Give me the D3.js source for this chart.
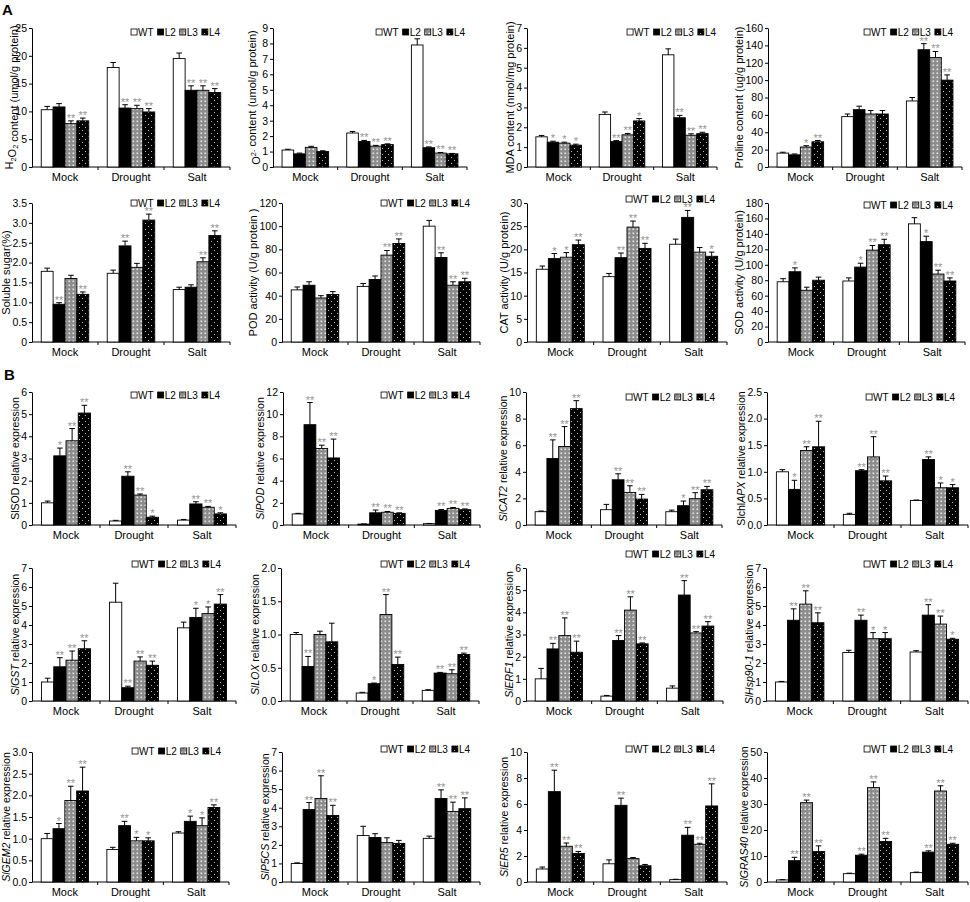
<!DOCTYPE html>
<html>
<head>
<meta charset="utf-8">
<script src="https://cdn.jsdelivr.net/npm/d3@7"></script>
<style>
  body { margin: 0; background: #fff; }
  svg { display: block; font-family: "Liberation Sans", Arial, sans-serif; }
</style>
</head>
<body>
<svg id="fig" width="970" height="902"></svg>
<script>
const groups = ["Mock", "Drought", "Salt"]
const series = ["WT", "L2", "L3", "L4"]

// ---- panel A: physiology ----
const h2o2Mean = [[10.3, 10.8, 7.8, 8.3], [17.9, 10.6, 10.5, 9.9], [19.5, 13.8, 13.8, 13.4]]
const h2o2Err  = [[0.6, 0.6, 0.5, 0.5], [0.9, 0.6, 0.6, 0.6], [1.0, 0.8, 0.8, 0.7]]
const h2o2Sig  = [["", "", "**", "**"], ["", "**", "**", "**"], ["", "**", "**", "**"]]

const o2Mean = [[1.1, 0.85, 1.27, 1.0], [2.2, 1.65, 1.35, 1.45], [7.9, 1.25, 0.9, 0.85]]
const o2Err  = [[0.05, 0.05, 0.07, 0.05], [0.1, 0.07, 0.05, 0.05], [0.4, 0.05, 0.04, 0.03]]
const o2Sig  = [["", "", "", ""], ["", "**", "**", "**"], ["", "**", "**", "**"]]

const mdaMean = [[1.52, 1.25, 1.2, 1.1], [2.65, 1.28, 1.62, 2.32], [5.65, 2.48, 1.6, 1.68]]
const mdaErr  = [[0.07, 0.05, 0.05, 0.05], [0.12, 0.05, 0.07, 0.12], [0.3, 0.12, 0.07, 0.07]]
const mdaSig  = [["", "*", "*", "*"], ["", "**", "**", "*"], ["", "**", "**", "**"]]

const prolineMean = [[16, 14, 23, 29], [58, 66, 61, 61], [76, 135, 126, 100]]
const prolineErr  = [[1, 1, 1.5, 1.5], [3, 4, 4, 4], [4, 7, 7, 6]]
const prolineSig  = [["", "", "*", "**"], ["", "", "", ""], ["", "**", "**", "**"]]

const sugarMean = [[1.78, 0.95, 1.6, 1.2], [1.73, 2.42, 1.88, 3.07], [1.32, 1.38, 2.02, 2.68]]
const sugarErr  = [[0.08, 0.04, 0.08, 0.06], [0.08, 0.12, 0.1, 0.15], [0.06, 0.06, 0.1, 0.12]]
const sugarSig  = [["", "**", "", "**"], ["", "**", "", "**"], ["", "", "**", "**"]]

const podMean = [[45, 49, 38, 41], [48, 54, 75, 85], [100, 73, 49, 52]]
const podErr  = [[2.5, 3, 2, 2.5], [2.5, 3, 4, 4], [5, 4, 3, 3]]
const podSig  = [["", "", "", ""], ["", "", "**", "**"], ["", "**", "**", "**"]]

const catMean = [[15.7, 18, 18.3, 21], [14.1, 18.2, 24.8, 20.2], [21.1, 26.9, 19.4, 18.5]]
const catErr  = [[0.7, 1.1, 1, 1], [0.7, 1, 1.3, 1.1], [1.1, 1.5, 1, 0.9]]
const catSig  = [["", "*", "*", "**"], ["", "**", "**", "**"], ["", "**", "", "*"]]

const sodMean = [[78, 91, 67, 80], [79, 97, 119, 126], [153, 130, 88, 79]]
const sodErr  = [[4, 5, 4, 4], [4, 5, 6, 7], [8, 7, 5, 4]]
const sodSig  = [["", "*", "", ""], ["", "*", "**", "**"], ["", "*", "**", "**"]]

// ---- panel B: gene expression ----
const slSodMean = [[1.0, 3.12, 3.8, 5.05], [0.18, 2.2, 1.35, 0.35], [0.22, 0.95, 0.8, 0.5]]
const slSodErr  = [[0.08, 0.35, 0.55, 0.35], [0.03, 0.2, 0.05, 0.05], [0.03, 0.1, 0.04, 0.05]]
const slSodSig  = [["", "*", "**", "**"], ["", "**", "**", "*"], ["", "**", "**", "*"]]

const slPodMean = [[1.0, 9.05, 6.9, 6.05], [0.08, 1.1, 1.15, 1.05], [0.12, 1.32, 1.5, 1.38]]
const slPodErr  = [[0.05, 2.0, 0.3, 1.7], [0.02, 0.25, 0.07, 0.05], [0.02, 0.08, 0.08, 0.07]]
const slPodSig  = [["", "**", "**", "**"], ["", "**", "**", "**"], ["", "**", "**", "**"]]

const slCat2Mean = [[1.0, 5.0, 5.9, 8.75], [1.15, 3.4, 2.45, 1.95], [1.0, 1.45, 1.98, 2.65]]
const slCat2Err  = [[0.05, 1.4, 1.5, 0.6], [0.4, 0.45, 0.5, 0.35], [0.12, 0.35, 0.45, 0.25]]
const slCat2Sig  = [["", "**", "**", "**"], ["", "**", "**", "**"], ["", "*", "**", "**"]]

const slApxMean = [[1.0, 0.67, 1.4, 1.47], [0.2, 1.02, 1.28, 0.83], [0.46, 1.23, 0.7, 0.7]]
const slApxErr  = [[0.04, 0.17, 0.07, 0.48], [0.02, 0.02, 0.38, 0.09], [0.01, 0.05, 0.09, 0.06]]
const slApxSig  = [["", "*", "**", "**"], ["", "**", "**", "**"], ["", "**", "*", "*"]]

const slGstMean = [[1.0, 1.8, 2.15, 2.75], [5.2, 0.7, 2.1, 1.88], [3.85, 4.4, 4.6, 5.1]]
const slGstErr  = [[0.2, 0.48, 0.48, 0.42], [1.0, 0.08, 0.22, 0.22], [0.3, 0.48, 0.35, 0.5]]
const slGstSig  = [["", "**", "**", "**"], ["", "**", "**", "**"], ["", "*", "*", "**"]]

const slLoxMean = [[1.0, 0.52, 1.0, 0.89], [0.12, 0.26, 1.3, 0.55], [0.16, 0.42, 0.41, 0.7]]
const slLoxErr  = [[0.03, 0.15, 0.05, 0.28], [0.01, 0.01, 0.3, 0.11], [0.01, 0.01, 0.06, 0.02]]
const slLoxSig  = [["", "**", "", ""], ["", "*", "**", "**"], ["", "**", "**", "**"]]

const slErf1Mean = [[1.0, 2.35, 2.95, 2.2], [0.22, 2.73, 4.1, 2.58], [0.58, 4.78, 3.07, 3.38]]
const slErf1Err  = [[0.47, 0.25, 0.8, 0.5], [0.03, 0.22, 0.6, 0.04], [0.1, 0.65, 0.06, 0.2]]
const slErf1Sig  = [["", "**", "**", "**"], ["", "**", "**", "**"], ["", "**", "**", "**"]]

const slHspMean = [[1.0, 4.25, 5.1, 4.12], [2.55, 4.25, 3.28, 3.28], [2.58, 4.52, 4.05, 3.25]]
const slHspErr  = [[0.03, 0.6, 0.7, 0.52], [0.12, 0.27, 0.32, 0.32], [0.07, 0.55, 0.42, 0.05]]
const slHspSig  = [["", "**", "**", "**"], ["", "**", "*", "*"], ["", "**", "**", "*"]]

const slGem2Mean = [[1.0, 1.23, 1.88, 2.1], [0.75, 1.3, 0.95, 0.95], [1.13, 1.4, 1.3, 1.72]]
const slGem2Err  = [[0.12, 0.12, 0.33, 0.55], [0.05, 0.1, 0.08, 0.07], [0.03, 0.12, 0.18, 0.06]]
const slGem2Sig  = [["", "*", "**", "**"], ["", "**", "*", "*"], ["", "*", "*", "**"]]

const slP5csMean = [[1.0, 3.9, 4.5, 3.58], [2.5, 2.4, 2.12, 2.08], [2.35, 4.5, 3.8, 3.95]]
const slP5csErr  = [[0.03, 0.38, 1.22, 0.55], [0.5, 0.2, 0.26, 0.16], [0.12, 0.46, 0.5, 0.58]]
const slP5csSig  = [["", "**", "**", "**"], ["", "", "", ""], ["", "**", "**", "**"]]

const slEr5Mean = [[1.0, 6.95, 2.75, 2.2], [1.4, 5.9, 1.8, 1.25], [0.18, 3.6, 2.9, 5.85]]
const slEr5Err  = [[0.15, 1.65, 0.25, 0.15], [0.3, 0.55, 0.08, 0.1], [0.03, 0.6, 0.08, 1.7]]
const slEr5Sig  = [["", "**", "**", "**"], ["", "**", "", ""], ["", "**", "**", "**"]]

const slGrasMean = [[0.8, 8.2, 30.5, 11.7], [3.2, 10.3, 36.3, 15.6], [3.6, 11.5, 35, 14.5]]
const slGrasErr  = [[0.1, 1.3, 1, 2.2], [0.2, 0.4, 2.2, 1.2], [0.2, 0.5, 2, 0.4]]
const slGrasSig  = [["", "**", "**", "**"], ["", "**", "**", "**"], ["", "**", "**", "**"]]

// y axis: max, step, tick label style
const yMax  = [25, 9, 7, 160, 3.5, 120, 30, 180, 6, 12, 10, 2.5, 7, 2.0, 6, 7, 3.0, 7, 10, 50]
const yStep = [5, 1, 1, 20, 0.5, 20, 5, 20, 1, 2, 2, 0.5, 1, 0.5, 1, 1, 0.5, 1, 2, 10]
const yFmt  = ["d", "d", "d", "d", "1z", "d", "d", "d", "d", "d", "d", "1", "d", "1", "d", "d", "1", "d", "d", "d"]

// y axis titles as [text, style] pieces
const yTitles = [
  [["H"], ["2", "sub"], ["O"], ["2", "sub"], [" content (umol/g protein)"]],
  [["O"], ["2-", "sup"], [" content (umol/g protein)"]],
  [["MDA content (nmol/mg protein)"]],
  [["Proline content (ug/g protein)"]],
  [["Soluble sugar(%)"]],
  [["POD activity (U/g protein )"]],
  [["CAT activity (U/g protein)"]],
  [["SOD activity (U/g protein)"]],
  [["SlSOD"], ["  relative expression"]],
  [["SlPOD", "i"], [" relative expression"]],
  [["SlCAT2", "i"], [" relative expression"]],
  [["Slchl"], ["APX", "i"], ["  relative expression"]],
  [["SlGST", "i"], ["  relative expression"]],
  [["SlLOX", "i"], [" relative expression"]],
  [["SlERF1", "i"], ["  relative expression"]],
  [["SlHsp90-1", "i"], ["  relative expression"]],
  [["SlGEM2", "i"], ["  relative expression"]],
  [["SlP5CS", "i"], ["  relative expression"]],
  [["SlER5", "i"], ["  relative expression"]],
  [["SlGRAS40", "i"], ["  relative expression"]]
]

const panelData = [
  [h2o2Mean, h2o2Err, h2o2Sig], [o2Mean, o2Err, o2Sig], [mdaMean, mdaErr, mdaSig], [prolineMean, prolineErr, prolineSig],
  [sugarMean, sugarErr, sugarSig], [podMean, podErr, podSig], [catMean, catErr, catSig], [sodMean, sodErr, sodSig],
  [slSodMean, slSodErr, slSodSig], [slPodMean, slPodErr, slPodSig], [slCat2Mean, slCat2Err, slCat2Sig], [slApxMean, slApxErr, slApxSig],
  [slGstMean, slGstErr, slGstSig], [slLoxMean, slLoxErr, slLoxSig], [slErf1Mean, slErf1Err, slErf1Sig], [slHspMean, slHspErr, slHspSig],
  [slGem2Mean, slGem2Err, slGem2Sig], [slP5csMean, slP5csErr, slP5csSig], [slEr5Mean, slEr5Err, slEr5Sig], [slGrasMean, slGrasErr, slGrasSig]
]

// layout of the 5x4 grid (plot area edges, legend anchor)
const rowTop    = [28, 203, 392, 568, 752]
const rowBottom = [167, 342, 525, 701, 882]
const colLeft  = [[32, 273, 527, 768], [32, 282, 527, 768], [32, 283, 526, 767], [32, 281, 526, 766], [32, 282, 527, 767]]
const colRight = [[230, 467, 717, 962], [230, 480, 727, 965], [236, 480, 722, 968], [236, 479, 723, 968], [229, 480, 727, 968]]
const legendRight = [[220, 465, 716, 953], [220, 470, 715, 953], [220, 470, 715, 955], [221, 470, 715, 953], [221, 470, 715, 953]]
const legendY = [[32, 32, 32, 32], [203, 203, 199, 205], [395, 395, 397, 397], [564, 564, 554, 564], [751, 749, 749, 749]]

const svg = d3.select("#fig")

// fills
const defs = svg.append("defs")
const p3 = defs.append("pattern").attr("id", "patL3").attr("patternUnits", "userSpaceOnUse")
  .attr("width", 4).attr("height", 4)
p3.append("rect").attr("width", 4).attr("height", 4).attr("fill", "#8c8c8c")
p3.append("rect").attr("x", 0.5).attr("y", 0.5).attr("width", 1.6).attr("height", 1.6).attr("fill", "#e6e6e6")
const p4 = defs.append("pattern").attr("id", "patL4").attr("patternUnits", "userSpaceOnUse")
  .attr("width", 6).attr("height", 6)
p4.append("rect").attr("width", 6).attr("height", 6).attr("fill", "#000")
p4.append("rect").attr("x", 1).attr("y", 1).attr("width", 1).attr("height", 1).attr("fill", "#bbb")
p4.append("rect").attr("x", 4).attr("y", 4).attr("width", 1).attr("height", 1).attr("fill", "#bbb")

const fills = {WT: "#fff", L2: "#000", L3: "url(#patL3)", L4: "url(#patL4)"}

function tickFormat(code) {
  if (code === "1") return d3.format(".1f")
  if (code === "1z") return d => d === 0 ? "0" : d3.format(".1f")(d)
  return d3.format("d")
}

function drawPanel(k, r, c) {
  const left = colLeft[r][c], right = colRight[r][c], top = rowTop[r], bottom = rowBottom[r]
  const [mean, err, sig] = panelData[k]
  const g = svg.append("g")

  const x = d3.scaleBand().domain(groups).range([left, right]).paddingInner(0.28).paddingOuter(0.14)
  const xs = d3.scaleBand().domain(series).range([0, x.bandwidth()])
  const y = d3.scaleLinear().domain([0, yMax[k]]).range([bottom, top])

  // y axis
  const ticks = d3.range(0, yMax[k] + yStep[k] / 2, yStep[k])
  const yAxis = g.append("g").attr("transform", `translate(${left},0)`)
    .call(d3.axisLeft(y).tickValues(ticks).tickFormat(tickFormat(yFmt[k]))
      .tickSize(3).tickSizeOuter(0).tickPadding(2))
  yAxis.selectAll("text").attr("font-size", 10.5).attr("fill", "#000").attr("font-family", null)
  yAxis.selectAll("line, path").attr("stroke", "#000")

  // x axis with ticks between groups
  const xg = g.append("g")
  xg.append("line").attr("x1", left).attr("x2", right).attr("y1", bottom).attr("y2", bottom)
    .attr("stroke", "#000")
  xg.selectAll(".sep").data(groups).join("line")
    .attr("x1", d => x(d) + x.bandwidth() + (x.step() - x.bandwidth()) / 2)
    .attr("x2", d => x(d) + x.bandwidth() + (x.step() - x.bandwidth()) / 2)
    .attr("y1", bottom).attr("y2", bottom + 3).attr("stroke", "#000")
  xg.selectAll("text").data(groups).join("text")
    .attr("x", d => x(d) + x.bandwidth() / 2).attr("y", bottom + 14)
    .attr("text-anchor", "middle").attr("font-size", 11).text(d => d)

  // bars, error bars, significance
  const cells = []
  groups.forEach((gr, i) => series.forEach((s, j) => cells.push({gr, s, m: mean[i][j], e: err[i][j], sig: sig[i][j]})))
  const bw = xs.bandwidth()
  g.append("g").selectAll("rect").data(cells).join("rect")
    .attr("x", d => x(d.gr) + xs(d.s)).attr("width", bw)
    .attr("y", d => y(d.m)).attr("height", d => bottom - y(d.m))
    .attr("fill", d => fills[d.s]).attr("stroke", "#000").attr("stroke-width", 0.9)
  const eg = g.append("g").attr("stroke", "#000").attr("stroke-width", 1)
  eg.selectAll(".v").data(cells).join("line")
    .attr("x1", d => x(d.gr) + xs(d.s) + bw / 2).attr("x2", d => x(d.gr) + xs(d.s) + bw / 2)
    .attr("y1", d => y(d.m)).attr("y2", d => y(d.m + d.e))
  eg.selectAll(".c").data(cells).join("line")
    .attr("x1", d => x(d.gr) + xs(d.s) + bw / 2 - 2.8).attr("x2", d => x(d.gr) + xs(d.s) + bw / 2 + 2.8)
    .attr("y1", d => y(d.m + d.e)).attr("y2", d => y(d.m + d.e))
  g.append("g").selectAll("text").data(cells.filter(d => d.sig)).join("text")
    .attr("x", d => x(d.gr) + xs(d.s) + bw / 2).attr("y", d => y(d.m + d.e) + 1)
    .attr("text-anchor", "middle").attr("font-size", 11).attr("fill", "#939393")
    .text(d => d.sig)

  // legend, right aligned
  const lg = g.append("g")
  let cx = 0
  series.forEach(s => {
    lg.append("rect").attr("x", cx).attr("y", -3).attr("width", 6).attr("height", 6)
      .attr("fill", fills[s]).attr("stroke", "#000").attr("stroke-width", 0.8)
    const t = lg.append("text").attr("x", cx + 7).attr("y", 3.8).attr("font-size", 10).text(s)
    cx += 7 + t.node().getComputedTextLength() + 4
  })
  lg.attr("transform", `translate(${legendRight[r][c] - (cx - 4)},${legendY[r][c]})`)

  // y title
  const bb = yAxis.node().getBBox()
  const title = g.append("text")
    .attr("transform", `translate(${left + bb.x - 6},${(top + bottom) / 2}) rotate(-90)`)
    .attr("text-anchor", "middle").attr("dy", "0.35em").attr("font-size", r >= 2 ? 10.5 : 11)
  yTitles[k].forEach(([txt, st]) => {
    const ts = title.append("tspan").text(txt)
    if (st === "i") ts.attr("font-style", "italic")
    if (st === "sub") { ts.attr("font-size", 7.5).attr("dy", 2.5); title.append("tspan").attr("dy", -2.5).text("") }
    if (st === "sup") { ts.attr("font-size", 7.5).attr("dy", -4); title.append("tspan").attr("dy", 4).text("") }
  })
}

for (let r = 0; r < 5; r++) {
  for (let c = 0; c < 4; c++) drawPanel(r * 4 + c, r, c)
}

svg.append("text").attr("x", 2).attr("y", 15).attr("font-size", 15).attr("font-weight", "bold").text("A")
svg.append("text").attr("x", 4).attr("y", 380).attr("font-size", 15).attr("font-weight", "bold").text("B")
</script>
</body>
</html>
